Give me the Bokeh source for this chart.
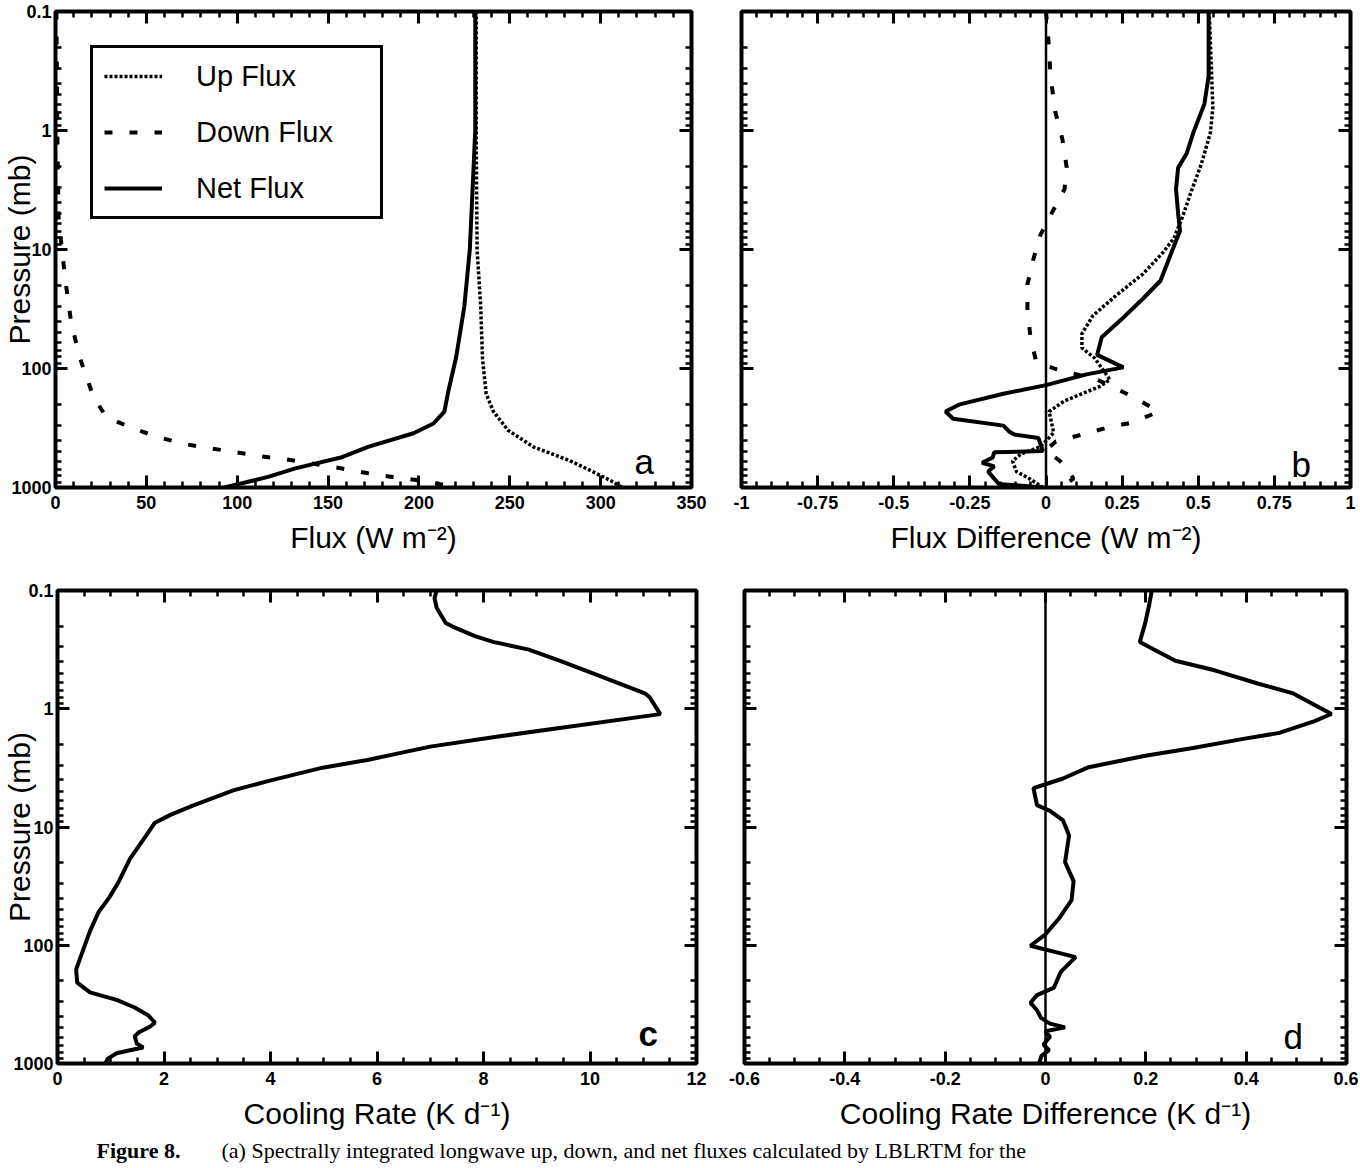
import numpy as np
from bokeh.plotting import figure
from bokeh.models import (Range1d, FixedTicker, LinearAxis, LogAxis,
                          CustomJSTickFormatter, Label, Span)
from bokeh.layouts import column, row
from bokeh.embed import file_html
from bokeh.resources import INLINE

# ---------------- data ----------------
# Panel a: fluxes (W m-2) vs pressure (mb)
up_p = [0.1, 1, 10, 30, 83, 163, 230, 330, 456, 595, 740, 900, 1000]
up_flux = [231.5, 231.5, 232, 234, 235, 237, 241, 249, 263, 283, 296, 307, 312]

down_p = [0.1, 1, 5.4, 10.6, 21, 42, 83, 175, 256, 316, 375, 430, 465, 505,
          550, 580, 690, 760, 815, 870, 950, 1000]
down_flux = [0.5, 1, 1.7, 3.7, 6, 8.7, 13.6, 21, 28, 42, 56, 70.5, 84, 99,
             114, 127, 157, 172, 185.5, 200, 214, 216]

net_p = [0.1, 1, 10, 30, 80, 160, 230, 290, 350, 456, 560, 690, 815, 1000]
net_flux = [231, 231, 228, 225, 220.5, 216, 214, 208, 197, 172, 157, 132, 117, 93]

# Panel b: flux differences (W m-2)
net_diff_p = [0.1, 0.35, 0.6, 1.04, 1.56, 2.05, 3.1, 5.0, 7.0, 10.6, 18.3, 25.8,
              38.8, 54.7, 76.9, 97.8, 112, 138, 163, 200, 230, 264, 302, 340,
              359, 384, 494, 505, 560, 620, 664, 735, 843, 934, 1000]
net_diff = [0.534, 0.534, 0.52, 0.484, 0.462, 0.434, 0.427, 0.434, 0.44, 0.412,
            0.376, 0.319, 0.247, 0.183, 0.168, 0.254, 0.133, 0.0, -0.14, -0.283,
            -0.33, -0.305, -0.14, -0.12, -0.104, -0.025, -0.01, -0.17, -0.175,
            -0.21, -0.17, -0.19, -0.17, -0.155, -0.01]

up_diff_p = [0.1, 0.64, 1.04, 1.92, 3.3, 5.35, 8.05, 10.6, 16, 24, 36, 51, 67,
             82, 124, 142, 187, 230, 282, 347, 397, 456, 523, 599, 735, 843, 1000]
up_diff = [0.536, 0.548, 0.54, 0.51, 0.476, 0.448, 0.42, 0.384, 0.319, 0.233,
           0.154, 0.118, 0.118, 0.16, 0.21, 0.176, 0.061, 0.01, 0.018, 0.025,
           0.004, -0.02, -0.082, -0.11, -0.097, -0.054, -0.01]

down_diff_p = [0.1, 0.175, 0.347, 0.69, 1.19, 2.05, 3.1, 5.0, 7.5, 12.2, 19.6,
               31.6, 54.7, 88, 101, 124, 175, 230, 282, 313, 359, 411, 488,
               599, 687, 843, 1000]
down_diff = [0.0, 0.008, 0.015, 0.03, 0.054, 0.068, 0.061, 0.018, -0.018,
             -0.042, -0.061, -0.061, -0.051, -0.032, 0.032, 0.168, 0.29, 0.369,
             0.29, 0.204, 0.118, 0.032, 0.0, 0.046, 0.068, 0.09, 0.05]

# Panel c: cooling rate (K d-1)
cool_p = [0.1, 0.116, 0.14, 0.188, 0.202, 0.243, 0.272, 0.316, 0.394, 0.53,
          0.74, 0.8, 1.11, 1.74, 2.09, 2.34, 2.71, 3.15, 4.07, 4.9, 6.6, 7.9,
          9.2, 11.9, 18.6, 29, 39, 52.6, 76, 110, 160, 207, 250, 290, 336, 390,
          452, 487, 545, 587, 680, 733, 772, 818, 914, 1000]
cool_rate = [7.12, 7.08, 7.12, 7.29, 7.42, 7.84, 8.18, 8.85, 9.44, 10.19,
             11.03, 11.12, 11.32, 8.18, 7.0, 6.49, 5.82, 4.98, 3.97, 3.3, 2.54,
             2.12, 1.83, 1.66, 1.36, 1.15, 0.98, 0.77, 0.61, 0.48, 0.35, 0.37,
             0.61, 1.11, 1.45, 1.7, 1.83, 1.74, 1.53, 1.45, 1.49, 1.61, 1.36,
             1.11, 0.94, 0.9]

# Panel d: cooling rate difference (K d-1)
cool_diff_p = [0.1, 0.13, 0.187, 0.272, 0.315, 0.393, 0.473, 0.612, 0.737,
               1.107, 1.28, 1.6, 1.79, 2.15, 2.5, 3.12, 3.89, 4.35, 4.69, 6.54,
               7.3, 8.8, 11.8, 19.8, 28.7, 41.5, 60, 80.8, 101, 126, 169, 228,
               264, 306, 355, 411, 460, 495, 533, 596, 691, 772, 863, 1000]
cool_diff = [0.212, 0.207, 0.199, 0.188, 0.216, 0.259, 0.337, 0.423, 0.492,
             0.57, 0.535, 0.466, 0.397, 0.294, 0.199, 0.086, 0.035, 0.0, -0.024,
             -0.017, 0.009, 0.035, 0.047, 0.039, 0.056, 0.052, 0.026, 0.0,
             -0.03, 0.06, 0.03, 0.017, -0.017, -0.03, -0.017, -0.009, 0.009,
             0.039, 0.0, 0.009, -0.004, 0.007, -0.008, -0.013]

# ticks / labels
y_major = [0.1, 1, 10, 100, 1000]
y_minor = [m * 10.0 ** e for e in range(-1, 3) for m in range(2, 10)]
xa_major = [0, 50, 100, 150, 200, 250, 300, 350]
xb_major = [-1, -0.75, -0.5, -0.25, 0, 0.25, 0.5, 0.75, 1]
xc_major = [0, 2, 4, 6, 8, 10, 12]
xd_major = [-0.6, -0.4, -0.2, 0, 0.2, 0.4, 0.6]

title_a = "Flux (W m\u207b\u00b2)"
title_b = "Flux Difference (W m\u207b\u00b2)"
title_c = "Cooling Rate (K d\u207b\u00b9)"
title_d = "Cooling Rate Difference (K d\u207b\u00b9)"
title_y = "Pressure (mb)"
legend_labels = ["Up Flux", "Down Flux", "Net Flux"]
caption_bold = "Figure 8."
caption_text = ("(a) Spectrally integrated longwave up, down, and net fluxes "
                "calculated by LBLRTM for the")


def minors(lo, hi, step, majors):
    vals = np.round(np.arange(lo, hi + step / 2, step), 6)
    return [float(v) for v in vals if not any(abs(v - m) < 1e-9 for m in majors)]


SANS = "Liberation Sans"
SERIF = "Liberation Serif"
LABEL_FMT = CustomJSTickFormatter(code="return String(Math.round(tick*1000)/1000);")


def style_axis(ax, show):
    ax.axis_line_color = None
    ax.major_tick_in = 12
    ax.major_tick_out = 0
    ax.minor_tick_in = 6
    ax.minor_tick_out = 0
    ax.major_tick_line_width = 3
    ax.minor_tick_line_width = 2.5
    ax.major_tick_line_color = "black"
    ax.minor_tick_line_color = "black"
    if show:
        ax.formatter = LABEL_FMT
        ax.major_label_text_font = SANS
        ax.major_label_text_font_style = "bold"
        ax.major_label_text_font_size = "18px"
        ax.major_label_text_color = "black"
    else:
        ax.formatter = CustomJSTickFormatter(code="return '';")
        ax.major_label_text_font_size = "0px"
        ax.major_label_standoff = 0


def style_title(ax, text, standoff):
    ax.axis_label = text
    ax.axis_label_text_font = SANS
    ax.axis_label_text_font_style = "normal"
    ax.axis_label_text_font_size = "30px"
    ax.axis_label_text_color = "black"
    ax.axis_label_standoff = standoff


def make_fig(width, height, bl, br, bt, bb, xr, xmaj, xmin_step, show_y):
    p = figure(width=width, height=height, x_range=Range1d(*xr),
               y_range=Range1d(1000, 0.1), y_axis_type="log",
               toolbar_location=None, output_backend="svg",
               min_border_left=bl, min_border_right=br,
               min_border_top=bt, min_border_bottom=bb)
    p.outline_line_color = "black"
    p.outline_line_width = 4
    p.xgrid.visible = False
    p.ygrid.visible = False
    p.background_fill_color = "white"
    p.border_fill_color = "white"
    xt = FixedTicker(ticks=xmaj, minor_ticks=minors(xr[0], xr[1], xmin_step, xmaj))
    yt = FixedTicker(ticks=y_major, minor_ticks=y_minor)
    bottom = p.below[0]
    left = p.left[0]
    bottom.ticker = xt
    left.ticker = yt
    style_axis(bottom, True)
    bottom.major_label_standoff = 8
    style_axis(left, show_y)
    if show_y:
        left.major_label_standoff = 4
    top = LinearAxis(ticker=xt)
    right = LogAxis(ticker=yt)
    style_axis(top, False)
    style_axis(right, False)
    p.add_layout(top, "above")
    p.add_layout(right, "right")
    return p, bottom, left


def add_letter(p, letter, x, y, bold=False):
    p.add_layout(Label(x=x, y=y, x_units="screen", y_units="screen", text=letter,
                       text_font=SANS, text_font_size="35px",
                       text_font_style="bold" if bold else "normal",
                       text_align="left", text_baseline="alphabetic",
                       text_color="black"))


# ---------------- panel a ----------------
pa, pa_x, pa_y = make_fig(716, 578, 55, 25, 11, 91, (0, 350), xa_major, 10, True)
pa.line(up_flux, up_p, line_color="black", line_width=3.5, line_dash="3 2",
        legend_label=legend_labels[0])
pa.line(down_flux, down_p, line_color="black", line_width=4, line_dash="8 17",
        legend_label=legend_labels[1])
pa.line(net_flux, net_p, line_color="black", line_width=4,
        legend_label=legend_labels[2])
lg = pa.legend[0]
lg.location = (35, 268)
lg.margin = 0
lg.padding = 11
lg.spacing = 22
lg.glyph_width = 58
lg.glyph_height = 34
lg.label_height = 34
lg.label_width = 173
lg.label_standoff = 34
lg.label_text_font = SANS
lg.label_text_font_size = "29px"
lg.label_text_color = "black"
lg.border_line_color = "black"
lg.border_line_alpha = 1.0
lg.border_line_width = 3
lg.background_fill_color = "white"
lg.background_fill_alpha = 1.0
style_title(pa_x, title_a, 9)
style_title(pa_y, title_y, -28)
add_letter(pa, "a", 579, 26)

# ---------------- panel b ----------------
pb, pb_x, pb_y = make_fig(642, 578, 25, 8, 11, 91, (-1, 1), xb_major, 0.05, False)
pb.add_layout(Span(location=0, dimension="height", line_color="black", line_width=2.5))
pb.line(up_diff, up_diff_p, line_color="black", line_width=3.5, line_dash="3 2")
pb.line(down_diff, down_diff_p, line_color="black", line_width=4, line_dash="8 17")
pb.line(net_diff, net_diff_p, line_color="black", line_width=4)
style_title(pb_x, title_b, 9)
add_letter(pb, "b", 550, 23)

# ---------------- panel c ----------------
pc, pc_x, pc_y = make_fig(716, 556, 57, 20, 12, 71, (0, 12), xc_major, 0.5, True)
pc.line(cool_rate, cool_p, line_color="black", line_width=4)
style_title(pc_x, title_c, 9)
style_title(pc_y, title_y, -26)
add_letter(pc, "c", 581, 30, bold=True)

# ---------------- panel d ----------------
pd, pd_x, pd_y = make_fig(642, 556, 28, 12, 12, 71, (-0.6, 0.6), xd_major, 0.05, False)
pd.add_layout(Span(location=0, dimension="height", line_color="black", line_width=2.5))
pd.line(cool_diff, cool_diff_p, line_color="black", line_width=4)
style_title(pd_x, title_d, 9)
add_letter(pd, "d", 539, 27)

# ---------------- caption strip ----------------
pcap = figure(width=1358, height=32, x_range=Range1d(0, 1), y_range=Range1d(0, 1),
              toolbar_location=None, output_backend="svg", min_border=0,
              x_axis_location=None, y_axis_location=None)
pcap.outline_line_color = None
pcap.grid.visible = False
pcap.add_layout(Label(x=96, y=16, x_units="screen", y_units="screen",
                      text=caption_bold, text_font=SERIF, text_font_style="bold",
                      text_font_size="22px", text_color="black",
                      text_baseline="middle"))
pcap.add_layout(Label(x=221, y=16, x_units="screen", y_units="screen",
                      text=caption_text, text_font=SERIF, text_font_size="22px",
                      text_color="black", text_baseline="middle"))

layout = column(row(pa, pb), row(pc, pd), pcap)
open("out.html", "w").write(file_html(layout, INLINE))
